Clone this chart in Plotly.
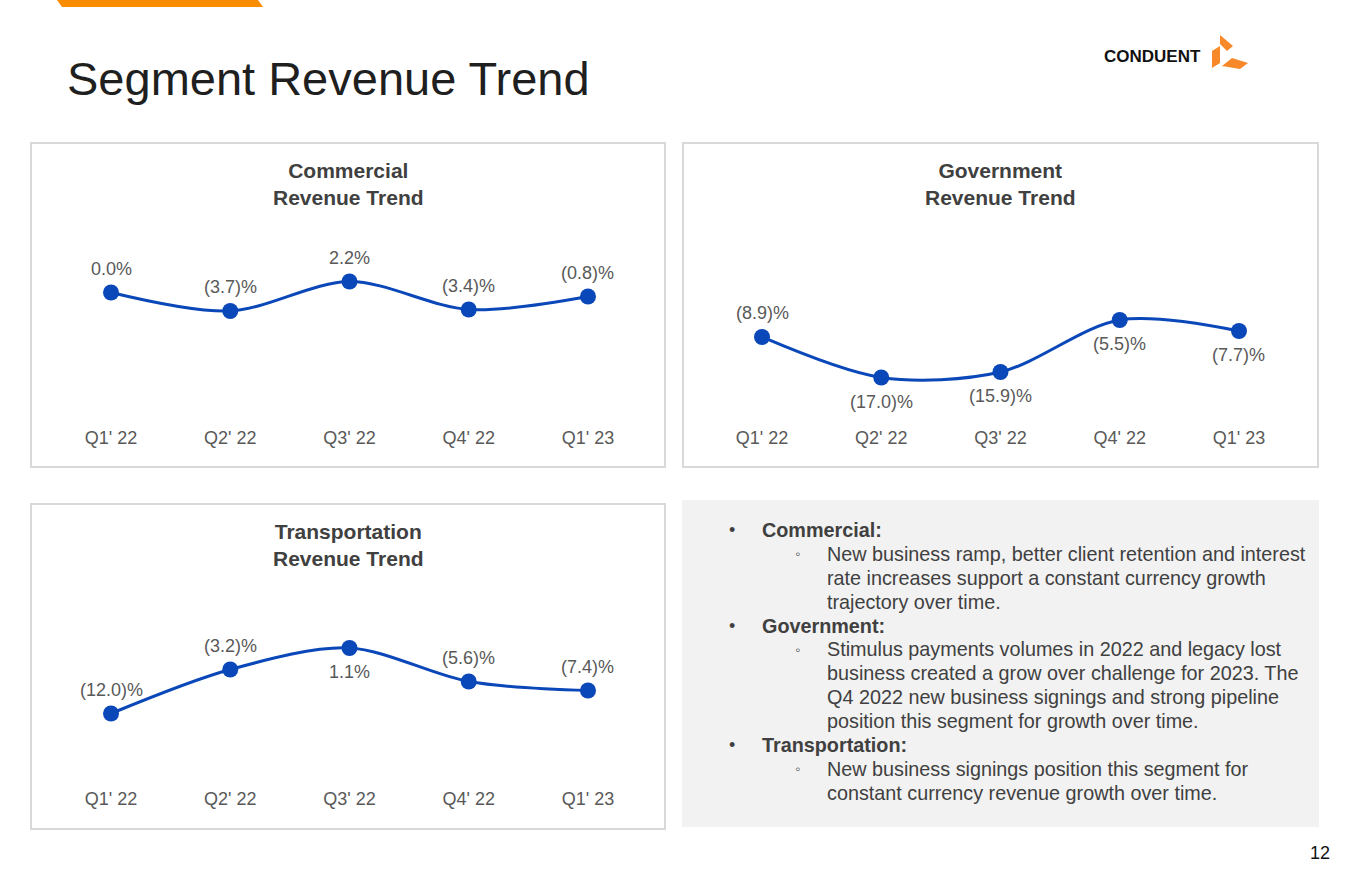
import plotly.graph_objects as go

W, H = 1365, 878

quarters = ["Q1' 22", "Q2' 22", "Q3' 22", "Q4' 22", "Q1' 23"]
commercial = [0.0, -3.7, 2.2, -3.4, -0.8]
government = [-8.9, -17.0, -15.9, -5.5, -7.7]
transportation = [-12.0, -3.2, 1.1, -5.6, -7.4]

# label side per point: 1 = above, -1 = below
commercial_side = [1, 1, 1, 1, 1]
government_side = [1, -1, -1, -1, -1]
transportation_side = [1, 1, -1, 1, 1]

BLUE = "#0a47b8"
GREY = "#595959"
DARK = "#404040"
FONT = "Liberation Sans, Arial, sans-serif"


def px(x):
    return x / W


def py(y):
    return 1 - y / H


def fmt(v):
    if v < 0:
        return "(%.1f)%%" % abs(v)
    return "%.1f%%" % v


panels = [
    # title, values, sides, box (x0, y0, x1, y1), x domain, y domain (pixels)
    ("Commercial<br>Revenue Trend", commercial, commercial_side,
     (31, 143, 665, 467), (51.4, 647.6), (225, 425)),
    ("Government<br>Revenue Trend", government, government_side,
     (683, 143, 1318, 467), (702.4, 1298.6), (225, 425)),
    ("Transportation<br>Revenue Trend", transportation, transportation_side,
     (31, 504, 665, 829), (51.4, 647.6), (586, 786)),
]

fig = go.Figure()
shapes = []
annotations = []


def note(x, y, text, size, color=DARK, xanchor="left"):
    annotations.append(dict(xref="paper", yref="paper", x=px(x), y=py(y),
                            xanchor=xanchor, yanchor="middle", text=text,
                            showarrow=False, align="left",
                            font=dict(family=FONT, size=size, color=color)))


# orange tab at top left
shapes.append(dict(type="path", xref="paper", yref="paper",
                   path="M %f %f L %f %f L %f %f L %f %f Z" % (
                       px(57), py(0), px(258), py(0), px(263), py(7), px(62), py(7)),
                   fillcolor="#fa8c00", line=dict(width=0)))

for i, (title, vals, sides, box, xd, yd) in enumerate(panels):
    n = "" if i == 0 else str(i + 1)
    xa, ya = "x" + n, "y" + n
    fig.add_trace(go.Scatter(
        x=quarters, y=vals, mode="lines+markers",
        line=dict(color=BLUE, width=3, shape="spline", smoothing=0.9),
        marker=dict(color=BLUE, size=16),
        xaxis=xa, yaxis=ya, hoverinfo="skip", showlegend=False))
    fig.update_layout(**{
        "xaxis" + n: dict(domain=[px(xd[0]), px(xd[1])], anchor=ya,
                          range=[-0.5, 4.5], showgrid=False, zeroline=False,
                          showline=False, ticks="",
                          tickfont=dict(family=FONT, size=18, color=GREY)),
        "yaxis" + n: dict(domain=[py(yd[1]), py(yd[0])], anchor=xa,
                          range=[-26.5, 13.5], visible=False),
    })
    shapes.append(dict(type="rect", xref="paper", yref="paper",
                       x0=px(box[0]), x1=px(box[2]), y0=py(box[3]), y1=py(box[1]),
                       line=dict(color="#d9d9d9", width=2), fillcolor="white",
                       layer="below"))
    annotations.append(dict(xref="paper", yref="paper",
                            x=px((box[0] + box[2]) / 2), y=py(box[1] + 41),
                            xanchor="center", yanchor="middle",
                            text="<b>%s</b>" % title, showarrow=False,
                            font=dict(family=FONT, size=21, color=DARK)))
    for q, v, s in zip(quarters, vals, sides):
        annotations.append(dict(xref=xa, yref=ya, x=q, y=v, text=fmt(v),
                                xanchor="center", yanchor="middle",
                                showarrow=False, yshift=24 * s,
                                font=dict(family=FONT, size=18, color=GREY)))

# commentary box
shapes.append(dict(type="rect", xref="paper", yref="paper",
                   x0=px(682), x1=px(1319), y0=py(827), y1=py(500),
                   line=dict(width=0), fillcolor="#f2f2f2", layer="below"))

notes = [
    ("Commercial:", [
        "New business ramp, better client retention and interest",
        "rate increases support a constant currency growth",
        "trajectory over time."]),
    ("Government:", [
        "Stimulus payments volumes in 2022 and legacy lost",
        "business created a grow over challenge for 2023. The",
        "Q4 2022 new business signings and strong pipeline",
        "position this segment for growth over time."]),
    ("Transportation:", [
        "New business signings position this segment for",
        "constant currency revenue growth over time."]),
]
y = 530
step = 23.9
for head, lines in notes:
    note(732, y, "•", 18, xanchor="center")
    note(760, y, "<b>%s</b>" % head, 19.8)
    for k, line in enumerate(lines):
        y += step
        if k == 0:
            note(797, y, "◦", 15, color="#595959", xanchor="center")
        note(825, y, line, 19.8)
    y += step

# page title, logo, page number
note(65, 78, "Segment Revenue Trend", 47, color="#1f1f1f")
note(1203, 57, "<b>CONDUENT</b>", 17, color="#111111", xanchor="right")
note(1332, 853, "12", 18, color="#111111", xanchor="right")

logo_parts = [
    [(1220, 35), (1233, 46), (1227, 51), (1220, 44)],
    [(1212, 51), (1220, 46), (1220, 63), (1212, 68)],
    [(1222, 66), (1232, 58), (1248, 63), (1240, 69)],
]
for part in logo_parts:
    path = "M " + " L ".join("%f %f" % (px(a), py(b)) for a, b in part) + " Z"
    shapes.append(dict(type="path", xref="paper", yref="paper", path=path,
                       fillcolor="#f7892b", line=dict(width=0)))

fig.update_layout(width=W, height=H, margin=dict(l=0, r=0, t=0, b=0),
                  paper_bgcolor="white", plot_bgcolor="rgba(0,0,0,0)",
                  shapes=shapes, annotations=annotations)

fig.write_html("out.html", config={"displayModeBar": False},
               post_script="document.body.style.margin = '0';")
